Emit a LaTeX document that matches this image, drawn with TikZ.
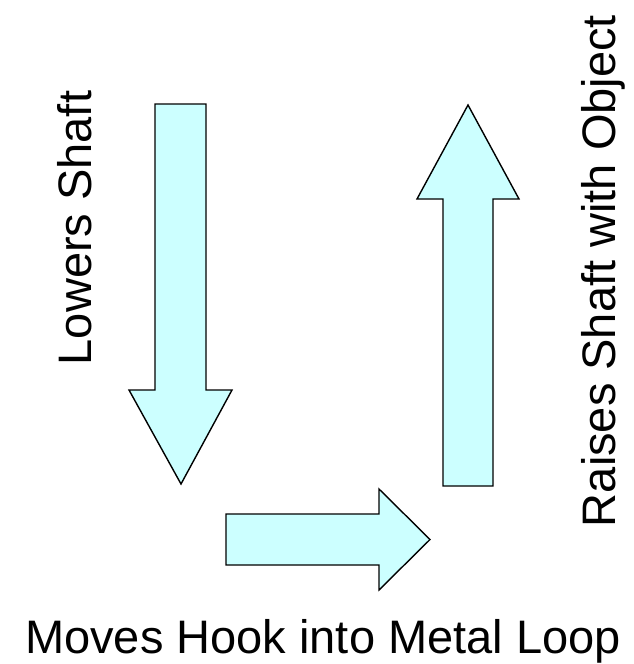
\documentclass[tikz,border=0pt]{standalone}
\usepackage{fontspec}
\setmainfont{Liberation Sans}
\definecolor{paleaqua}{HTML}{CCFFFF}

\begin{document}
\begin{tikzpicture}[x=1pt,y=-1pt,
	blockarrow/.style={draw=black,fill=paleaqua,line width=1.4pt,line join=miter},
	caption/.style={inner sep=0pt,font=\fontsize{47}{56}\selectfont}]
	\useasboundingbox (0,0) rectangle (633,664);
	% lowers shaft
	\draw [blockarrow] (155,104) -- (206,104) -- (206,390) -- (232,390) -- (181,484) -- (129,390) -- (155,390) -- cycle;
	\node [caption,rotate=90,anchor=base] (lowers) at (91,228) {Lowers Shaft};
	% moves hook
	\draw [blockarrow] (226,514) -- (379,514) -- (379,489) -- (430,539.5) -- (379,590) -- (379,565) -- (226,565) -- cycle;
	\node [caption,anchor=base] (moves) at (323,653.5) {Moves Hook into Metal Loop};
	% raises shaft
	\draw [blockarrow] (443,486) -- (443,199) -- (417,199) -- (468,105) -- (519,199) -- (493,199) -- (493,486) -- cycle;
	\node [caption,rotate=90,anchor=base] (raises) at (615,271) {Raises Shaft with Object};
\end{tikzpicture}
\end{document}
